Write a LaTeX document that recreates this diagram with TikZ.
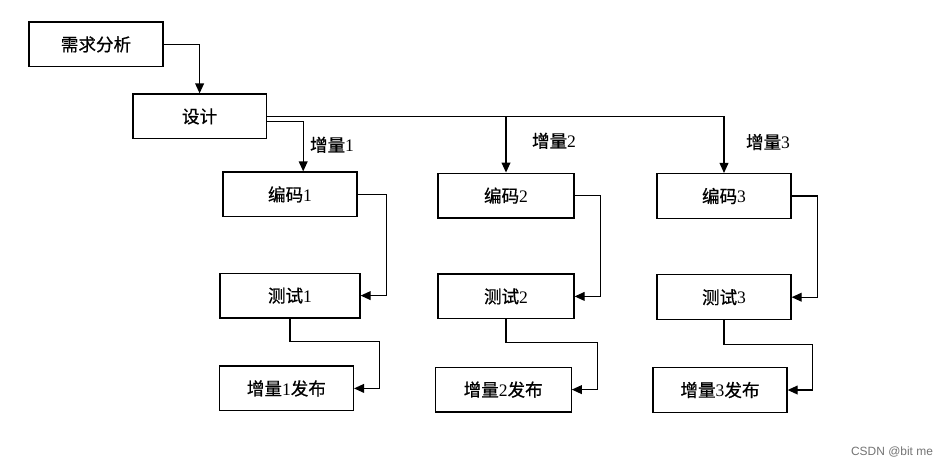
\documentclass[tikz,border=0pt]{standalone}
\usepackage{fontspec}
\setmainfont{Liberation Serif}
\newfontfamily\cjk[FakeBold=0.6]{Noto Sans CJK SC}
\newfontfamily\wmark{Liberation Sans}
\usetikzlibrary{arrows.meta}
\begin{document}
\begin{tikzpicture}[line width=0.9pt,
	box/.style = {draw, rectangle, minimum width=3.35cm, minimum height=1.12cm, font=\fontsize{12.5}{14}\selectfont},
	flow/.style = {-{Triangle[length=0.25cm,width=0.22cm]}},
	tag/.style = {font=\fontsize{12.5}{14}\selectfont}]
	\useasboundingbox (0,0) rectangle (23.65,-11.65);
	\node (req)   at ( 2.40, -1.11)	[box]	{\cjk 需求分析};
	\node (design) at ( 4.99, -2.91)	[box, minimum width=3.33cm]	{\cjk 设计};
	\node (code1) at ( 7.25, -4.86)	[box]	{{\cjk 编码}1};
	\node (test1) at ( 7.25, -7.39)	[box, minimum width=3.5cm]	{{\cjk 测试}1};
	\node (rel1)  at ( 7.16, -9.71)	[box]	{{\cjk 增量}1{\cjk 发布}};
	\node (code2) at (12.65, -4.89)	[box, minimum width=3.4cm]	{{\cjk 编码}2};
	\node (test2) at (12.65, -7.41)	[box, minimum width=3.4cm]	{{\cjk 测试}2};
	\node (rel2)  at (12.58, -9.74)	[box, minimum width=3.4cm]	{{\cjk 增量}2{\cjk 发布}};
	\node (code3) at (18.10, -4.90)	[box]	{{\cjk 编码}3};
	\node (test3) at (18.10, -7.43)	[box]	{{\cjk 测试}3};
	\node (rel3)  at (18.00, -9.75)	[box]	{{\cjk 增量}3{\cjk 发布}};
	\node (inc1)  at ( 8.30, -3.62)	[tag]	{{\cjk 增量}1};
	\node (inc2)  at (13.85, -3.52)	[tag]	{{\cjk 增量}2};
	\node (inc3)  at (19.20, -3.55)	[tag]	{{\cjk 增量}3};
	\node (mark)  at (22.30, -11.30)	[text=black!55, font=\wmark\fontsize{8.5}{10}\selectfont]	{CSDN @bit me};
	\draw[flow] (req.east) -| (design.north);
	\draw[flow] (design.east) -| (code3.north);
	\draw[flow] (design.east) -| (code2.north);
	\draw[flow] ([yshift=-0.12cm]design.east) -| ([xshift=0.33cm]code1.north);
	\draw[flow] (code1.east) -- ++(0.72,0) |- (test1.east);
	\draw[flow] (code2.east) -- ++(0.65,0) |- (test2.east);
	\draw[flow] (code3.east) -- ++(0.65,0) |- (test3.east);
	\draw[flow] (test1.south) -- ++(0,-0.57) -| ([xshift=0.63cm]rel1.east) -- (rel1.east);
	\draw[flow] (test2.south) -- ++(0,-0.57) -| ([xshift=0.65cm]rel2.east) -- (rel2.east);
	\draw[flow] (test3.south) -- ++(0,-0.60) -| ([xshift=0.63cm]rel3.east) -- (rel3.east);
\end{tikzpicture}
\end{document}
